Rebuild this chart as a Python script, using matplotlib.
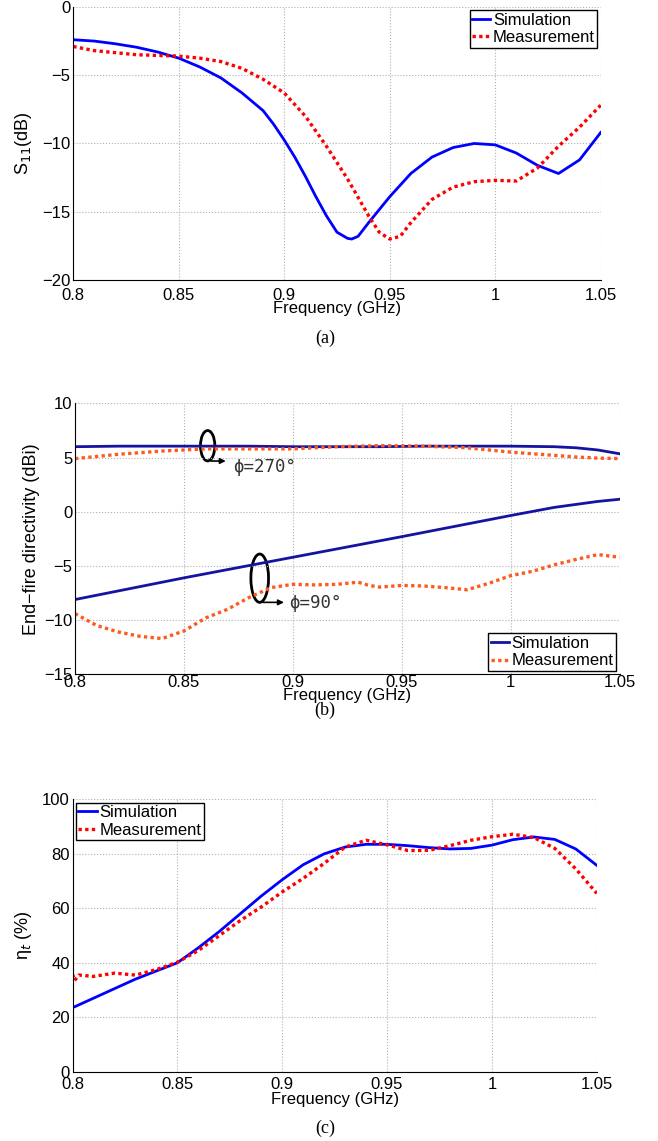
import numpy as np
import matplotlib
matplotlib.use("Agg")
import matplotlib.pyplot as plt
from matplotlib.patches import Ellipse

plt.rcParams['font.family'] = ['Liberation Sans', 'DejaVu Sans']
plt.rcParams['font.size'] = 12

# (a) S11
f_a_sim = [0.80, 0.81, 0.82, 0.83, 0.84, 0.85, 0.86, 0.87, 0.88, 0.89, 0.895, 0.90, 0.905,
           0.91, 0.915, 0.92, 0.925, 0.93, 0.932, 0.935, 0.94, 0.95, 0.96, 0.97, 0.98,
           0.99, 1.00, 1.01, 1.02, 1.03, 1.04, 1.05]
s11_sim = [-2.4, -2.5, -2.7, -2.95, -3.3, -3.75, -4.4, -5.2, -6.3, -7.6, -8.6, -9.75, -11.0,
           -12.4, -13.9, -15.3, -16.5, -16.95, -17.0, -16.8, -15.8, -13.9, -12.2, -11.0, -10.3,
           -10.0, -10.1, -10.7, -11.6, -12.2, -11.2, -9.2]
f_a_meas = [0.80, 0.81, 0.82, 0.83, 0.84, 0.85, 0.86, 0.87, 0.88, 0.89, 0.90, 0.91, 0.92,
            0.93, 0.94, 0.945, 0.95, 0.955, 0.96, 0.97, 0.98, 0.99, 1.00, 1.01, 1.02,
            1.03, 1.04, 1.05]
s11_meas = [-2.9, -3.2, -3.35, -3.5, -3.55, -3.6, -3.75, -4.0, -4.5, -5.3, -6.3, -8.0, -10.2,
            -12.6, -15.3, -16.5, -17.0, -16.8, -15.8, -14.1, -13.2, -12.8, -12.7, -12.75, -11.8,
            -10.2, -8.8, -7.2]

# (b) end-fire directivity
f_b = [0.80, 0.82, 0.84, 0.86, 0.88, 0.90, 0.92, 0.94, 0.96, 0.98, 1.00, 1.02, 1.03, 1.04, 1.05]
d270_sim = [6.0, 6.05, 6.05, 6.05, 6.05, 6.0, 6.0, 6.0, 6.05, 6.05, 6.05, 6.0, 5.9, 5.7, 5.35]
d270_meas = [4.9, 5.3, 5.6, 5.8, 5.8, 5.8, 6.0, 6.1, 6.05, 5.9, 5.5, 5.2, 5.05, 4.95, 4.9]
f_b90_sim = [0.80, 0.85, 0.90, 0.95, 1.00, 1.02, 1.04, 1.05]
d90_sim = [-8.1, -6.1, -4.2, -2.3, -0.35, 0.4, 0.95, 1.15]
f_b90_meas = [0.80, 0.81, 0.82, 0.83, 0.84, 0.85, 0.86, 0.87, 0.88, 0.89, 0.90, 0.91, 0.92,
              0.93, 0.935, 0.94, 0.95, 0.96, 0.97, 0.98, 0.99, 1.00, 1.01, 1.02, 1.03, 1.04, 1.05]
d90_meas = [-9.4, -10.5, -11.1, -11.5, -11.7, -11.0, -9.8, -9.0, -7.9, -7.0, -6.7, -6.75, -6.7,
            -6.5, -6.8, -6.95, -6.8, -6.85, -7.0, -7.2, -6.6, -5.9, -5.5, -4.9, -4.4, -3.95, -4.2]

# (c) total efficiency
f_c = [0.80, 0.81, 0.82, 0.83, 0.84, 0.85, 0.86, 0.87, 0.88, 0.89, 0.90, 0.91, 0.92, 0.93,
       0.94, 0.95, 0.96, 0.97, 0.98, 0.99, 1.00, 1.01, 1.02, 1.03, 1.04, 1.05]
eff_sim = [23.5, 27, 30.5, 34, 37, 40, 45.5, 51.5, 58, 64.5, 70.5, 76, 80, 82.5,
           83.5, 83.5, 83, 82.3, 81.8, 82, 83.2, 85.2, 86.2, 85.3, 81.8, 75.8]
f_c_meas = [0.80, 0.801, 0.803, 0.81, 0.82, 0.83, 0.84, 0.85, 0.86, 0.87, 0.88, 0.89, 0.90,
            0.91, 0.92, 0.93, 0.94, 0.95, 0.96, 0.97, 0.98, 0.99, 1.00, 1.01, 1.02, 1.03,
            1.04, 1.05]
eff_meas = [35.8, 33.5, 35.5, 35, 36.2, 35.5, 37.5, 40.2, 44.5, 50, 55.5, 60.5, 66,
            71, 76.5, 82.5, 85, 83.3, 81.2, 81.3, 83, 85, 86.3, 87.2, 86, 82,
            74.5, 65.5]

xticks = [0.8, 0.85, 0.9, 0.95, 1.0, 1.05]
xticklabels = ['0.8', '0.85', '0.9', '0.95', '1', '1.05']

fig = plt.figure(figsize=(6.58, 11.41), dpi=100)
ax_a = fig.add_axes([0.1114, 0.7546, 0.8015, 0.2393])
ax_b = fig.add_axes([0.1140, 0.4090, 0.8275, 0.2375])
ax_c = fig.add_axes([0.1102, 0.0607, 0.7967, 0.2387])


def style(ax, yticks, xpad, xlabelpad):
    ax.set_xlim(0.8, 1.05)
    ax.set_xticks(xticks)
    ax.set_xticklabels(xticklabels)
    ax.set_yticks(yticks)
    ax.set_ylim(yticks[0], yticks[-1])
    ax.grid(True, linestyle=':', color='#b0b0b0', linewidth=0.8)
    ax.tick_params(direction='in', length=0, labelsize=12)
    ax.tick_params(axis='x', pad=xpad)
    ax.tick_params(axis='y', pad=2)
    ax.set_xlabel('Frequency (GHz)', fontsize=12, labelpad=xlabelpad)
    for s in ax.spines.values():
        s.set_linewidth(0.8)
    ax.spines['top'].set_visible(False)
    ax.spines['right'].set_visible(False)


def legend(ax, loc):
    leg = ax.legend(loc=loc, fontsize=12, handlelength=1.1, handletextpad=0.15,
                    borderpad=0.15, labelspacing=0.15, borderaxespad=0.2,
                    fancybox=False, edgecolor='black', framealpha=1)
    leg.get_frame().set_linewidth(1.0)


# (a)
ax_a.plot(f_a_sim, s11_sim, color='#0000ff', lw=2, label='Simulation')
ax_a.plot(f_a_meas, s11_meas, color='#ff0000', lw=2.4, ls=(0, (1, 1)), label='Measurement')
style(ax_a, [-20, -15, -10, -5, 0], 5.5, -1)
ax_a.set_ylabel('S$_{11}$(dB)', fontsize=13, labelpad=6)
legend(ax_a, 'upper right')
fig.text(0.494, 1 - 338 / 1141, '(a)', family='Liberation Serif', fontsize=13,
         ha='center', va='center')

# (b)
ax_b.plot(f_b, d270_sim, color='#1414a0', lw=2, label='Simulation')
ax_b.plot(f_b, d270_meas, color='#ff5a1e', lw=2.4, ls=(0, (1, 1)), label='Measurement')
ax_b.plot(f_b90_sim, d90_sim, color='#1414a0', lw=2)
ax_b.plot(f_b90_meas, d90_meas, color='#ff5a1e', lw=2.4, ls=(0, (1, 1)))
style(ax_b, [-15, -10, -5, 0, 5, 10], 0.5, -1.5)
ax_b.set_ylabel('End\u2212fire directivity (dBi)', fontsize=13, labelpad=3)
legend(ax_b, 'lower right')
ax_b.add_patch(Ellipse((0.8609, 6.09), 0.0066, 2.8, fill=False, color='black', lw=2))
ax_b.annotate('', xy=(0.8705, 4.68), xytext=(0.8612, 4.68),
              arrowprops=dict(arrowstyle='-|>', color='black', lw=1.2, mutation_scale=8))
ax_b.text(0.8725, 4.15, '\u03d5=270\u00b0', family='DejaVu Sans Mono', fontsize=12.5,
          color='#333333', ha='left', va='center')
ax_b.add_patch(Ellipse((0.8848, -6.13), 0.0081, 4.46, fill=False, color='black', lw=2))
ax_b.annotate('', xy=(0.8972, -8.36), xytext=(0.885, -8.36),
              arrowprops=dict(arrowstyle='-|>', color='black', lw=1.2, mutation_scale=8))
ax_b.text(0.8985, -8.45, '\u03d5=90\u00b0', family='DejaVu Sans Mono', fontsize=12.5,
          color='#333333', ha='left', va='center')
fig.text(0.494, 1 - 710 / 1141, '(b)', family='Liberation Serif', fontsize=13,
         ha='center', va='center')

# (c)
ax_c.plot(f_c, eff_sim, color='#0000ff', lw=2, label='Simulation')
ax_c.plot(f_c_meas, eff_meas, color='#ff0000', lw=2.4, ls=(0, (1, 1)), label='Measurement')
style(ax_c, [0, 20, 40, 60, 80, 100], 4, 0)
ax_c.set_ylabel('\u03b7$_t$ (%)', fontsize=13, labelpad=6)
legend(ax_c, 'upper left')
fig.text(0.494, 1 - 1128 / 1141, '(c)', family='Liberation Serif', fontsize=13,
         ha='center', va='center')

fig.savefig('out.png', dpi=100)
